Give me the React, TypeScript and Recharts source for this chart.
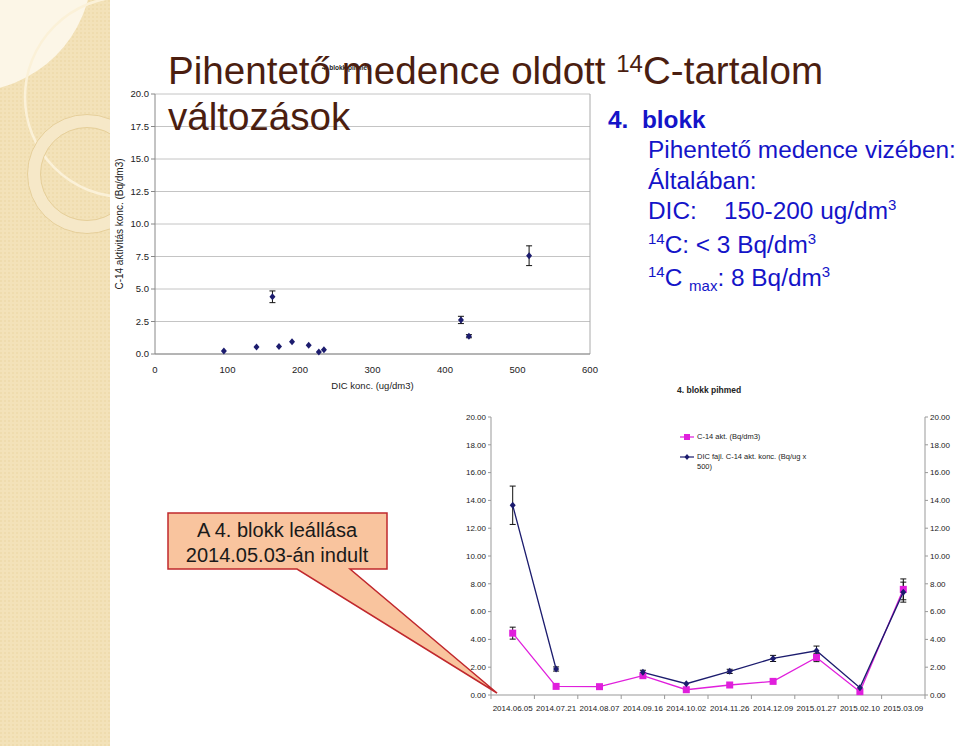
import React from 'react';
import {
  ScatterChart, Scatter, ComposedChart, Line, XAxis, YAxis, CartesianGrid,
  ErrorBar, ReferenceLine, Legend,
} from 'recharts';

// top chart: C-14 activity vs DIC concentration
const dicConc = [95, 140, 162, 171, 189, 212, 226, 233, 422, 433, 516];
const c14Activity = [0.23, 0.54, 4.4, 0.57, 0.95, 0.68, 0.15, 0.32, 2.62, 1.37, 7.56];
const c14ActivityErr = [0, 0, 0.45, 0, 0, 0, 0, 0, 0.28, 0.12, 0.76];
const scatterXTicks = [0, 100, 200, 300, 400, 500, 600];
const scatterYTicks = [0, 2.5, 5, 7.5, 10, 12.5, 15, 17.5, 20];

// bottom chart: time series
const sampleDates = [
  '2014.06.05', '2014.07.21', '2014.08.07', '2014.09.16', '2014.10.02',
  '2014.11.26', '2014.12.09', '2015.01.27', '2015.02.10', '2015.03.09',
];
const c14Akt = [4.45, 0.62, 0.6, 1.39, 0.38, 0.72, 0.98, 2.7, 0.24, 7.6];
const c14AktErr = [0.43, 0, 0, 0, 0, 0, 0, 0.3, 0, 0.75];
const dicFajl = [13.65, 1.87, null, 1.63, 0.81, 1.7, 2.63, 3.18, 0.53, 7.4];
const dicFajlErr = [1.38, 0.15, 0, 0.15, 0, 0.15, 0.22, 0.34, 0, 0.72];
const lineYTicks = [0, 2, 4, 6, 8, 10, 12, 14, 16, 18, 20];

const FONT = '"Liberation Sans", Arial, sans-serif';
const NAVY = '#1c1c6e';
const MAGENTA = '#e01fdc';

const scatterData = dicConc.map((x, i) => ({ x, y: c14Activity[i], err: c14ActivityErr[i] }));

const seriesData = sampleDates.map((date, i) => ({
  date,
  c14: c14Akt[i],
  c14Err: c14AktErr[i],
  dic: dicFajl[i],
  dicErr: dicFajlErr[i],
}));

const Diamond = (props: any) => {
  const { cx, cy } = props;
  if (cx == null || cy == null) return <g />;
  return <path d={`M${cx},${cy - 3.5}L${cx + 3},${cy}L${cx},${cy + 3.5}L${cx - 3},${cy}Z`} fill={NAVY} />;
};

const SquareDot = (props: any) => {
  const { cx, cy, index } = props;
  if (cx == null || cy == null) return <g key={`s${index}`} />;
  return <rect key={`s${index}`} x={cx - 3.5} y={cy - 3.5} width={7} height={7} fill={MAGENTA} />;
};

const DiamondDot = (props: any) => {
  const { cx, cy, index } = props;
  if (cx == null || cy == null) return <g key={`d${index}`} />;
  return (
    <path key={`d${index}`} d={`M${cx},${cy - 3.5}L${cx + 3},${cy}L${cx},${cy + 3.5}L${cx - 3},${cy}Z`} fill={NAVY} />
  );
};

const HALF_BAND = 21.7;

const DateTick = (props: any) => {
  const { x, y, payload, index } = props;
  return (
    <g>
      <line x1={x - HALF_BAND} x2={x - HALF_BAND} y1={y} y2={y + 4} stroke="#999" />
      {index === sampleDates.length - 1 && (
        <line x1={x + HALF_BAND} x2={x + HALF_BAND} y1={y} y2={y + 4} stroke="#999" />
      )}
      <text x={x} y={y + 16} textAnchor="middle" fontSize={8} fill="#222" fontFamily={FONT}>
        {payload.value}
      </text>
    </g>
  );
};

const renderLegend = () => (
  <div style={{ fontFamily: FONT, fontSize: 7.5, color: '#222', lineHeight: '10px', width: 130 }}>
    <div style={{ display: 'flex', alignItems: 'flex-start', marginBottom: 10 }}>
      <svg width={15} height={10} style={{ flex: 'none' }}>
        <line x1={0} x2={14} y1={5} y2={5} stroke={MAGENTA} strokeWidth={1.2} />
        <rect x={4} y={2} width={6} height={6} fill={MAGENTA} />
      </svg>
      <span style={{ marginLeft: 2 }}>C-14 akt. (Bq/dm3)</span>
    </div>
    <div style={{ display: 'flex', alignItems: 'flex-start' }}>
      <svg width={15} height={10} style={{ flex: 'none' }}>
        <line x1={0} x2={14} y1={5} y2={5} stroke={NAVY} strokeWidth={1.2} />
        <path d="M7,2L9.5,5L7,8L4.5,5Z" fill={NAVY} />
      </svg>
      <span style={{ marginLeft: 2, width: 112 }}>DIC fajl. C-14 akt. konc. (Bq/ug x 500)</span>
    </div>
  </div>
);

const LeftStripe = () => (
  <svg width={110} height={746} style={{ position: 'absolute', left: 0, top: 0 }}>
    <defs>
      <pattern id="dots" width="4" height="4" patternUnits="userSpaceOnUse">
        <rect width="4" height="4" fill="#f3e2b9" />
        <rect width="2" height="2" fill="#efdcae" />
      </pattern>
      <clipPath id="stripeClip">
        <rect width={110} height={746} />
      </clipPath>
    </defs>
    <g clipPath="url(#stripeClip)">
      <rect width={110} height={746} fill="url(#dots)" />
      <circle cx={-32} cy={-32} r={124} fill="#fcf6e7" />
      <circle cx={125} cy={97} r={100} fill="none" stroke="#fbf1d8" strokeWidth={2.5} />
      <circle cx={87} cy={174} r={53} fill="none" stroke="#f6e8c8" strokeWidth={13} />
      <circle cx={87} cy={174} r={59.5} fill="none" stroke="#e6cf9a" strokeWidth={1} />
      <circle cx={87} cy={174} r={46.5} fill="none" stroke="#e6cf9a" strokeWidth={1} />
    </g>
  </svg>
);

const supStyle: React.CSSProperties = { fontSize: 15, position: 'relative', top: -9, verticalAlign: 'baseline' };
const subStyle: React.CSSProperties = { fontSize: 15, position: 'relative', top: 5, verticalAlign: 'baseline' };

export default function App() {
  return (
    <div style={{ position: 'absolute', left: 0, top: 0, width: 960, height: 746, background: '#fff', overflow: 'hidden', fontFamily: FONT }}>
      <LeftStripe />

      {/* small chart title hidden behind the slide title */}
      <div style={{ position: 'absolute', left: 322, top: 64, fontSize: 6.5, fontWeight: 'bold', color: '#222' }}>
        4. blokk pihmed
      </div>

      <div style={{ position: 'absolute', left: 100, top: 60 }}>
        <ScatterChart width={510} height={340} margin={{ top: 34, right: 20, left: 0, bottom: 0 }}>
          <CartesianGrid vertical={false} stroke="#c4c4c4" />
          <XAxis
            type="number"
            dataKey="x"
            domain={[0, 600]}
            ticks={scatterXTicks}
            height={46}
            axisLine={{ stroke: '#888' }}
            tickLine={false}
            tick={{ fontSize: 9.5, fill: '#222', fontFamily: FONT }}
            tickMargin={6}
            label={{ value: 'DIC konc. (ug/dm3)', position: 'insideBottom', offset: 11, fontSize: 9.5, fill: '#222', fontFamily: FONT }}
          />
          <YAxis
            type="number"
            dataKey="y"
            domain={[0, 20]}
            ticks={scatterYTicks}
            width={55}
            tickFormatter={(v: number) => v.toFixed(1)}
            axisLine={{ stroke: '#888' }}
            tickLine={{ stroke: '#888' }}
            tickSize={4}
            tick={{ fontSize: 9.5, fill: '#222', fontFamily: FONT }}
            label={{ value: 'C-14 aktivitás konc.  (Bq/dm3)', angle: -90, position: 'insideLeft', offset: 19, style: { textAnchor: 'middle' }, fontSize: 10, fill: '#222', fontFamily: FONT }}
          />
          <ReferenceLine x={600} stroke="#aaa" />
          <Scatter data={scatterData} shape={<Diamond />} isAnimationActive={false}>
            <ErrorBar dataKey="err" direction="y" width={3} stroke="#111" strokeWidth={1} />
          </Scatter>
        </ScatterChart>
      </div>

      {/* slide title */}
      <div style={{ position: 'absolute', left: 168, top: 52, fontSize: 38.6, lineHeight: '38px', color: '#4b1e10', whiteSpace: 'nowrap' }}>
        Pihentető medence oldott <span style={{ fontSize: 24, position: 'relative', top: -12 }}>14</span>C-tartalom
      </div>
      <div style={{ position: 'absolute', left: 168, top: 98, fontSize: 38.6, lineHeight: '38px', color: '#4b1e10' }}>
        változások
      </div>

      {/* right info text */}
      <div style={{ position: 'absolute', left: 608, top: 105, color: '#1414c8', fontSize: 24.4, lineHeight: '30.4px', whiteSpace: 'pre' }}>
        <div style={{ fontWeight: 'bold' }}>4.  blokk</div>
        <div style={{ marginLeft: 40 }}>
          <div>Pihentető medence vizében:</div>
          <div>Általában:</div>
          <div>DIC:    150-200 ug/dm<span style={supStyle}>3</span></div>
          <div><span style={supStyle}>14</span>C: &lt; 3 Bq/dm<span style={supStyle}>3</span></div>
          <div><span style={supStyle}>14</span>C <span style={subStyle}>max</span>: 8 Bq/dm<span style={supStyle}>3</span></div>
        </div>
      </div>

      {/* bottom chart title */}
      <div style={{ position: 'absolute', left: 677, top: 385, fontSize: 8.5, fontWeight: 'bold', color: '#222' }}>
        4. blokk pihmed
      </div>

      <div style={{ position: 'absolute', left: 440, top: 400 }}>
        <ComposedChart width={520} height={330} data={seriesData} margin={{ top: 17, right: 0, left: 0, bottom: 0 }}>
          <XAxis
            dataKey="date"
            scale="band"
            height={35}
            axisLine={{ stroke: '#999' }}
            tickLine={false}
            tickSize={0}
            tickMargin={0}
            interval={0}
            tick={<DateTick />}
          />
          <YAxis
            yAxisId="left"
            domain={[0, 20]}
            ticks={lineYTicks}
            width={51}
            tickFormatter={(v: number) => v.toFixed(2)}
            axisLine={{ stroke: '#999' }}
            tickLine={{ stroke: '#999' }}
            tickSize={3}
            tick={{ fontSize: 8, fill: '#222', fontFamily: FONT }}
          />
          <YAxis
            yAxisId="right"
            orientation="right"
            domain={[0, 20]}
            ticks={lineYTicks}
            width={35}
            tickFormatter={(v: number) => v.toFixed(2)}
            axisLine={{ stroke: '#999' }}
            tickLine={{ stroke: '#999' }}
            tickSize={3}
            tick={{ fontSize: 8, fill: '#222', fontFamily: FONT }}
          />
          <Legend
            layout="horizontal"
            verticalAlign="middle"
            align="center"
            content={renderLegend}
            wrapperStyle={{ position: 'absolute', left: 240, top: 32, width: 130 }}
          />
          <Line
            yAxisId="right"
            type="linear"
            dataKey="c14"
            stroke={MAGENTA}
            strokeWidth={1.3}
            dot={SquareDot}
            activeDot={false}
            isAnimationActive={false}
          >
            <ErrorBar dataKey="c14Err" direction="y" width={3} stroke="#111" strokeWidth={1} />
          </Line>
          <Line
            yAxisId="left"
            type="linear"
            dataKey="dic"
            stroke={NAVY}
            strokeWidth={1.3}
            dot={DiamondDot}
            activeDot={false}
            isAnimationActive={false}
          >
            <ErrorBar dataKey="dicErr" direction="y" width={3} stroke="#111" strokeWidth={1} />
          </Line>
        </ComposedChart>
      </div>

      {/* callout */}
      <svg width={960} height={746} style={{ position: 'absolute', left: 0, top: 0, pointerEvents: 'none' }}>
        <path
          d="M168,513 H387 V569 H350 L497,693 L297,569 H168 Z"
          fill="#f9c49e"
          stroke="#c0282d"
          strokeWidth={1.5}
        />
        <text x={277} y={537} textAnchor="middle" fontSize={20} fill="#1a1a1a" fontFamily={FONT}>
          A 4. blokk leállása
        </text>
        <text x={277} y={562} textAnchor="middle" fontSize={20} fill="#1a1a1a" fontFamily={FONT}>
          2014.05.03-án indult
        </text>
      </svg>
    </div>
  );
}
